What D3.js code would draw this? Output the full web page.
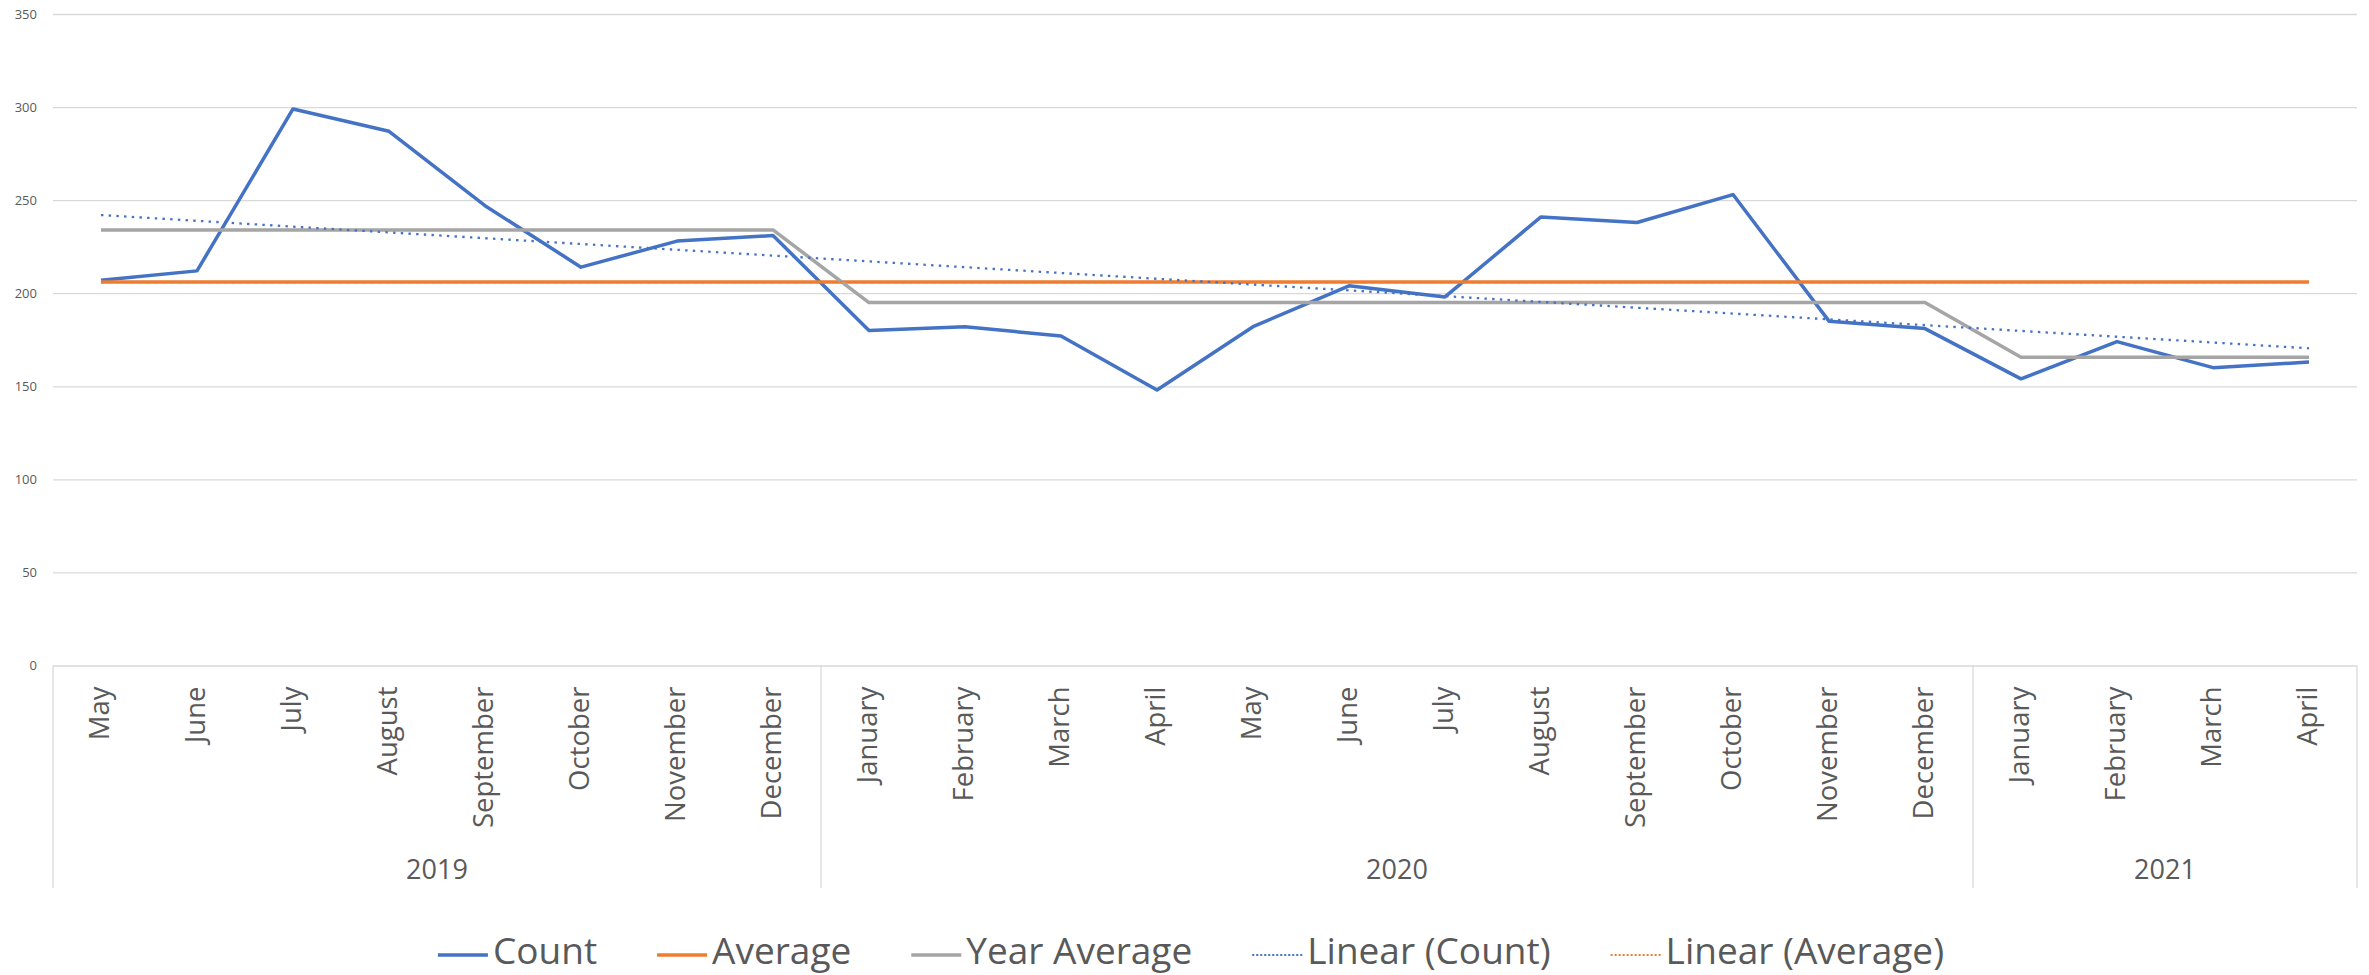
<!DOCTYPE html>
<html>
<head>
<meta charset="utf-8">
<script src="https://cdn.jsdelivr.net/npm/d3@7"></script>
<style>
  body { margin: 0; background: #ffffff; }
  text { font-family: "Open Sans", "Noto Sans", sans-serif; fill: #595959; }
</style>
</head>
<body>
<script>
// months on the axis, grouped by year
var months = ["May", "June", "July", "August", "September", "October", "November", "December",
  "January", "February", "March", "April", "May", "June", "July", "August", "September",
  "October", "November", "December", "January", "February", "March", "April"];
var years = ["2019", "2020", "2021"];
var monthsPerYear = [8, 12, 4];

var countValues = [207, 212, 299, 287, 247, 214, 228, 231,
  180, 182, 177, 148, 182, 204, 198, 241, 238, 253, 185, 181,
  154, 174, 160, 163];
var averageValues = [206, 206, 206, 206, 206, 206, 206, 206,
  206, 206, 206, 206, 206, 206, 206, 206, 206, 206, 206, 206,
  206, 206, 206, 206];
var yearAverageValues = [234, 234, 234, 234, 234, 234, 234, 234,
  195, 195, 195, 195, 195, 195, 195, 195, 195, 195, 195, 195,
  165.6, 165.6, 165.6, 165.6];
// trendlines, read at first and last month
var linearCountValues = [242, 170.4];
var linearAverageValues = [206, 206];

var yTicks = [0, 50, 100, 150, 200, 250, 300, 350];
var legendNames = ["Count", "Average", "Year Average", "Linear (Count)", "Linear (Average)"];

function drawChart() {
  var width = 2369;
  var height = 975;
  var left = 53, right = 2357, top = 14, bottom = 665.5;

  var svg = d3.select("body")
    .append("svg")
    .attr("width", width)
    .attr("height", height);

  // one key per month so repeated names stay apart
  var keys = [];
  var k = 0;
  years.forEach(function (yr, i) {
    for (var j = 0; j < monthsPerYear[i]; j++) {
      keys.push(yr + "-" + k);
      k++;
    }
  });

  var x = d3.scaleBand().domain(keys).range([left, right]).padding(0);
  var y = d3.scaleLinear().domain([0, 350]).range([bottom, top]);
  var cx = function (i) { return x(keys[i]) + x.bandwidth() / 2; };

  // gridlines + value labels
  var yAxis = svg.append("g")
    .attr("transform", "translate(" + left + ",0)")
    .call(d3.axisLeft(y).tickValues(yTicks).tickSize(-(right - left)).tickPadding(16));
  yAxis.select(".domain").remove();
  yAxis.selectAll(".tick line").attr("stroke", "#d9d9d9").attr("stroke-width", 1.3);
  yAxis.selectAll(".tick text")
    .style("font-size", "13px")
    .attr("fill", "#595959");

  // month labels
  var xAxis = svg.append("g")
    .attr("transform", "translate(0," + bottom + ")")
    .call(d3.axisBottom(x).tickSize(0).tickFormat(function (d, i) { return months[i]; }));
  xAxis.select(".domain").remove();
  xAxis.selectAll(".tick text")
    .attr("transform", "rotate(-90)")
    .attr("x", -21)
    .attr("y", 0)
    .attr("dy", "0.28em")
    .attr("text-anchor", "end")
    .style("font-size", "27.5px");

  // year groups
  var groupBottom = 888;
  var groups = [];
  var s = 0;
  monthsPerYear.forEach(function (n, i) {
    groups.push({ year: years[i], x0: x(keys[s]), x1: x(keys[s + n - 1]) + x.bandwidth() });
    s += n;
  });
  var edges = [left].concat(groups.map(function (g) { return g.x1; }));
  svg.append("g").selectAll("line")
    .data(edges)
    .enter()
    .append("line")
      .attr("x1", function (d) { return d; })
      .attr("x2", function (d) { return d; })
      .attr("y1", bottom)
      .attr("y2", groupBottom)
      .attr("stroke", "#d9d9d9")
      .attr("stroke-width", 1.3);
  svg.append("g").selectAll("text")
    .data(groups)
    .enter()
    .append("text")
      .attr("x", function (d) { return (d.x0 + d.x1) / 2; })
      .attr("y", 879)
      .attr("text-anchor", "middle")
      .style("font-size", "27px")
      .text(function (d) { return d.year; });

  var line = d3.line()
    .x(function (d, i) { return cx(i); })
    .y(function (d) { return y(d); });

  var series = [
    { values: countValues, color: "#4472C4" },
    { values: averageValues, color: "#ED7D31" },
    { values: yearAverageValues, color: "#A5A5A5" }
  ];
  series.forEach(function (sr) {
    svg.append("path")
      .datum(sr.values)
      .attr("d", line)
      .attr("fill", "none")
      .attr("stroke", sr.color)
      .attr("stroke-width", 3.5)
      .attr("stroke-linejoin", "round");
  });

  // trendlines between first and last month
  var trend = d3.line()
    .x(function (d, i) { return i === 0 ? cx(0) : cx(keys.length - 1); })
    .y(function (d) { return y(d); });
  [[linearAverageValues, "#ED7D31"], [linearCountValues, "#4472C4"]].forEach(function (t) {
    svg.append("path")
      .datum(t[0])
      .attr("d", trend)
      .attr("fill", "none")
      .attr("stroke", t[1])
      .attr("stroke-width", 2.3)
      .attr("stroke-dasharray", "2.4 5.3");
  });

  // legend
  var legendColors = ["#4472C4", "#ED7D31", "#A5A5A5", "#4472C4", "#ED7D31"];
  var legendDash = [null, null, null, "2 2", "2 2"];
  var legend = svg.append("g");
  var items = legend.selectAll("g")
    .data(legendNames)
    .enter()
    .append("g");
  items.append("line")
    .attr("x1", 0).attr("x2", 50)
    .attr("y1", 955).attr("y2", 955)
    .attr("stroke", function (d, i) { return legendColors[i]; })
    .attr("stroke-width", function (d, i) { return legendDash[i] ? 2 : 3.5; })
    .attr("stroke-dasharray", function (d, i) { return legendDash[i]; });
  items.append("text")
    .attr("x", 55)
    .attr("y", 964)
    .style("font-size", "37px")
    .text(function (d) { return d; });

  var gap = 60;
  var offsets = [];
  var pos = 0;
  items.each(function () {
    var w = d3.select(this).select("text").node().getComputedTextLength();
    offsets.push(pos);
    pos += 55 + w + gap;
  });
  var total = pos - gap;
  var startX = 1191 - total / 2;
  items.attr("transform", function (d, i) { return "translate(" + (startX + offsets[i]) + ",0)"; });
}

drawChart();
</script>
</body>
</html>
